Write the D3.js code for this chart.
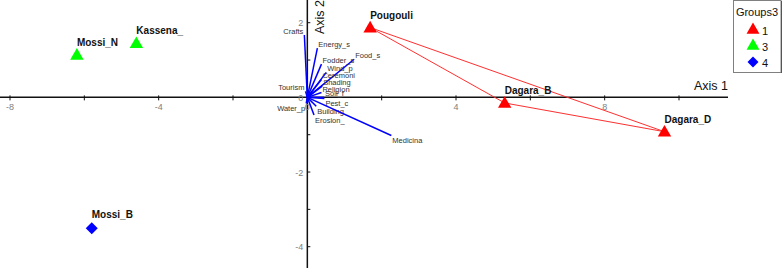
<!DOCTYPE html>
<html>
<head>
<meta charset="utf-8">
<script src="https://cdn.jsdelivr.net/npm/d3@7"></script>
<style>
  html, body { margin: 0; padding: 0; background: #fff; }
  svg { display: block; font-family: "Liberation Sans", Arial, sans-serif; }
</style>
</head>
<body>
<svg id="chart" width="782" height="268"></svg>
<script>
// site scores (axis 1, axis 2) and their group
const sites = ["Mossi_N", "Kassena_", "Mossi_B", "Pougouli", "Dagara_B", "Dagara_D"];
const siteX = [-6.20, -4.60, -5.80, 1.69, 5.31, 9.61];
const siteY = [1.14, 1.45, -3.48, 1.87, -0.15, -0.92];
const siteGroup = [3, 3, 4, 1, 1, 1];

// biplot vectors of the variables
const vars = ["Crafts", "Energy_s", "Food_s", "Fodder_s", "Wind_p", "Ceremoni", "Shading",
  "Religion", "Soil_f", "Pest_c", "Building", "Erosion_", "Medicina", "Tourism", "Water_p"];
const varX = [-0.08, 0.27, 1.26, 0.38, 0.51, 0.38, 0.40, 0.38, 0.45, 0.46, 0.24, 0.18, 2.26, -0.05, -0.03];
const varY = [1.67, 1.32, 1.02, 0.89, 0.67, 0.48, 0.30, 0.13, 0.0, -0.03, -0.24, -0.47, -1.02, 0.16, -0.16];

const groups = [1, 3, 4];
const groupColor = { 1: "#ff0000", 3: "#00ff00", 4: "#0000ff" };
const groupShape = { 1: "tri", 3: "tri", 4: "dia" };

const xTicks = [-8, -6, -4, -2, 0, 2, 4, 6, 8, 10];
const xTickLabels = [-8, -4, 0, 4, 8];
const yTicks = [-4, -3, -2, -1, 0, 1, 2];
const yTickLabels = [-4, -2, 0, 2];

const svg = d3.select("#chart");
const x = d3.scaleLinear().domain([-8, 10]).range([10, 679]);
const y = d3.scaleLinear().domain([2, -4]).range([22.7, 246.7]);
const x0 = x(0), y0 = y(0);

function marker(shape, size){
  if(shape === "dia") return d3.symbol(d3.symbolSquare, size)();
  return d3.symbol(d3.symbolTriangle, size)();
}

// axes
const ax = svg.append("g");
ax.append("line").attr("x1", 0).attr("x2", 728).attr("y1", y0).attr("y2", y0)
  .attr("stroke", "#111").attr("stroke-width", 1.5);
ax.append("line").attr("x1", x0).attr("x2", x0).attr("y1", 0).attr("y2", 268)
  .attr("stroke", "#111").attr("stroke-width", 1.5);
ax.selectAll(".xt").data(xTicks).join("line")
  .attr("x1", d => x(d)).attr("x2", d => x(d)).attr("y1", y0 - 2).attr("y2", y0 + 3)
  .attr("stroke", "#111");
ax.selectAll(".yt").data(yTicks).join("line")
  .attr("x1", x0).attr("x2", x0 + 3).attr("y1", d => y(d)).attr("y2", d => y(d))
  .attr("stroke", "#111");
ax.selectAll(".xl").data(xTickLabels).join("text")
  .attr("x", d => x(d)).attr("y", y0 + 13).attr("text-anchor", "middle")
  .attr("font-size", 9).attr("fill", "#808080").text(d => d);
ax.selectAll(".yl").data(yTickLabels).join("text")
  .attr("x", x0 - 4).attr("y", d => y(d) + 3.5).attr("text-anchor", "end")
  .attr("font-size", 9).attr("fill", "#808080").text(d => d);

ax.append("text").attr("x", 728).attr("y", 90).attr("text-anchor", "end")
  .attr("font-size", 12.5).attr("fill", "#111").text("Axis 1");
ax.append("text").attr("transform", "translate(324,17) rotate(-90)")
  .attr("text-anchor", "middle").attr("font-size", 12.5).attr("fill", "#111").text("Axis 2");

// convex hull of group 1
const hullPts = d3.polygonHull(sites.map((s, i) => [x(siteX[i]), y(siteY[i]), siteGroup[i]])
  .filter(p => p[2] === 1).map(p => [p[0], p[1]]));
svg.append("path").attr("d", "M" + hullPts.join("L") + "Z")
  .attr("fill", "none").attr("stroke", "#ff3030").attr("stroke-width", 1);

// variable vectors
const vg = svg.append("g");
vars.forEach((v, i) => {
  const ex = x(varX[i]), ey = y(varY[i]);
  vg.append("line").attr("x1", x0).attr("y1", y0).attr("x2", ex).attr("y2", ey)
    .attr("stroke", "#0000ff").attr("stroke-width", 1.5);
  vg.append("text")
    .attr("x", varX[i] < 0 ? ex - 1 : ex + 1)
    .attr("y", varY[i] >= 0 ? ey - 1 : ey + 8)
    .attr("text-anchor", varX[i] < 0 ? "end" : "start")
    .attr("font-size", 7.5).attr("fill", "#333").text(v);
});

// site markers
const sg = svg.append("g");
sites.forEach((s, i) => {
  const g = siteGroup[i];
  const cx = x(siteX[i]), cy = y(siteY[i]);
  sg.append("path").attr("d", marker(groupShape[g], groupShape[g] === "dia" ? 72 : 78))
    .attr("transform", "translate(" + cx + "," + (cy + 1) + ")" + (groupShape[g] === "dia" ? " rotate(45)" : ""))
    .attr("fill", groupColor[g]);
  sg.append("text").attr("x", cx).attr("y", cy - 9)
    .attr("font-size", 10).attr("font-weight", "bold").attr("fill", "#111").text(s);
});

// legend
const lg = svg.append("g");
lg.append("rect").attr("x", 733.5).attr("y", 0.5).attr("width", 47.5).attr("height", 72)
  .attr("fill", "#fff").attr("stroke", "#808080");
lg.append("line").attr("x1", 781.5).attr("x2", 781.5).attr("y1", 1).attr("y2", 73)
  .attr("stroke", "#555").attr("stroke-width", 1);
lg.append("text").attr("x", 757).attr("y", 16).attr("text-anchor", "middle")
  .attr("font-size", 11).attr("fill", "#111").text("Groups3");
groups.forEach((g, i) => {
  const ly = 30 + i * 16;
  lg.append("path").attr("d", marker(groupShape[g], groupShape[g] === "dia" ? 60 : 72))
    .attr("transform", "translate(753," + ly + ")" + (groupShape[g] === "dia" ? " rotate(45)" : ""))
    .attr("fill", groupColor[g]);
  lg.append("text").attr("x", 762).attr("y", ly + 4.5)
    .attr("font-size", 11).attr("fill", "#111").text(g);
});
</script>
</body>
</html>
